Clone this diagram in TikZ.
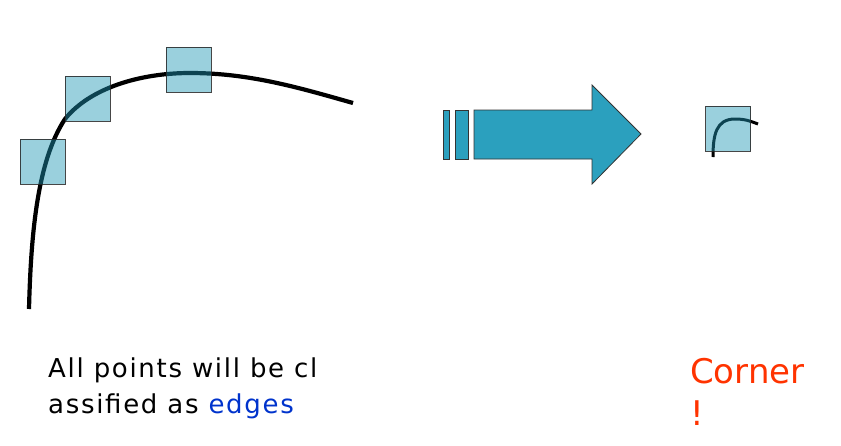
\documentclass[tikz,border=0pt]{standalone}
\usepackage{fontspec}
\setmainfont{DejaVu Sans}
\newfontfamily\widesans[LetterSpace=6.5]{DejaVu Sans}
\begin{document}
\begin{tikzpicture}[x=1pt,y=-1pt]
\definecolor{sqfill}{RGB}{30,150,180}
\definecolor{arrowfill}{RGB}{43,160,190}
\definecolor{edgeblue}{RGB}{0,51,204}
\definecolor{cornerred}{RGB}{255,51,0}
\tikzset{
  window/.style={draw=black!85, draw opacity=0.85, line width=1pt, fill=sqfill, fill opacity=0.45,
    minimum width=45pt, minimum height=45pt, inner sep=0pt, outer sep=0pt},
  arrowpart/.style={draw=black!80, line width=0.8pt, fill=arrowfill},
  curve/.style={line width=4.2pt, black},
  label/.style={inner sep=0pt, anchor=base west}
}
\useasboundingbox (0,0) rectangle (841,445);
% main curve
\draw[curve] (29,309) .. controls (31,230) and (38,160) .. (65,119)
  .. controls (90,88) and (140,73) .. (190,73)
  .. controls (250,73) and (300,88) .. (353,103);
% windows
\node[window] (w1) at (42.5,161.5) {};
\node[window] (w2) at (87.5,98.5) {};
\node[window] (w3) at (188.5,69.5) {};
% arrow
\draw[arrowpart] (443,110) rectangle (449,159);
\draw[arrowpart] (455,110) rectangle (468,159);
\draw[arrowpart] (474,110) -- (592,110) -- (592,85) -- (641,134) -- (592,184) -- (592,159) -- (474,159) -- cycle;
% corner window
\draw[line width=3pt] (713,157) .. controls (713,135) and (716,119) .. (735,119)
  .. controls (745,119) and (750,121) .. (758,124);
\node[window] (w4) at (728,128.5) {};
% texts
\node[label, font=\widesans\fontsize{26}{36}\selectfont] (t1) at (48,377) {All points will be cl};
\node[label, font=\widesans\fontsize{26}{36}\selectfont] (t2) at (48,413) {assified as \textcolor{edgeblue}{edges}};
\node[label, font=\fontsize{34}{42}\selectfont, text=cornerred] (c1) at (690,383) {Corner};
\node[label, font=\fontsize{34}{42}\selectfont, text=cornerred] (c2) at (690,425) {!};
\end{tikzpicture}
\end{document}
